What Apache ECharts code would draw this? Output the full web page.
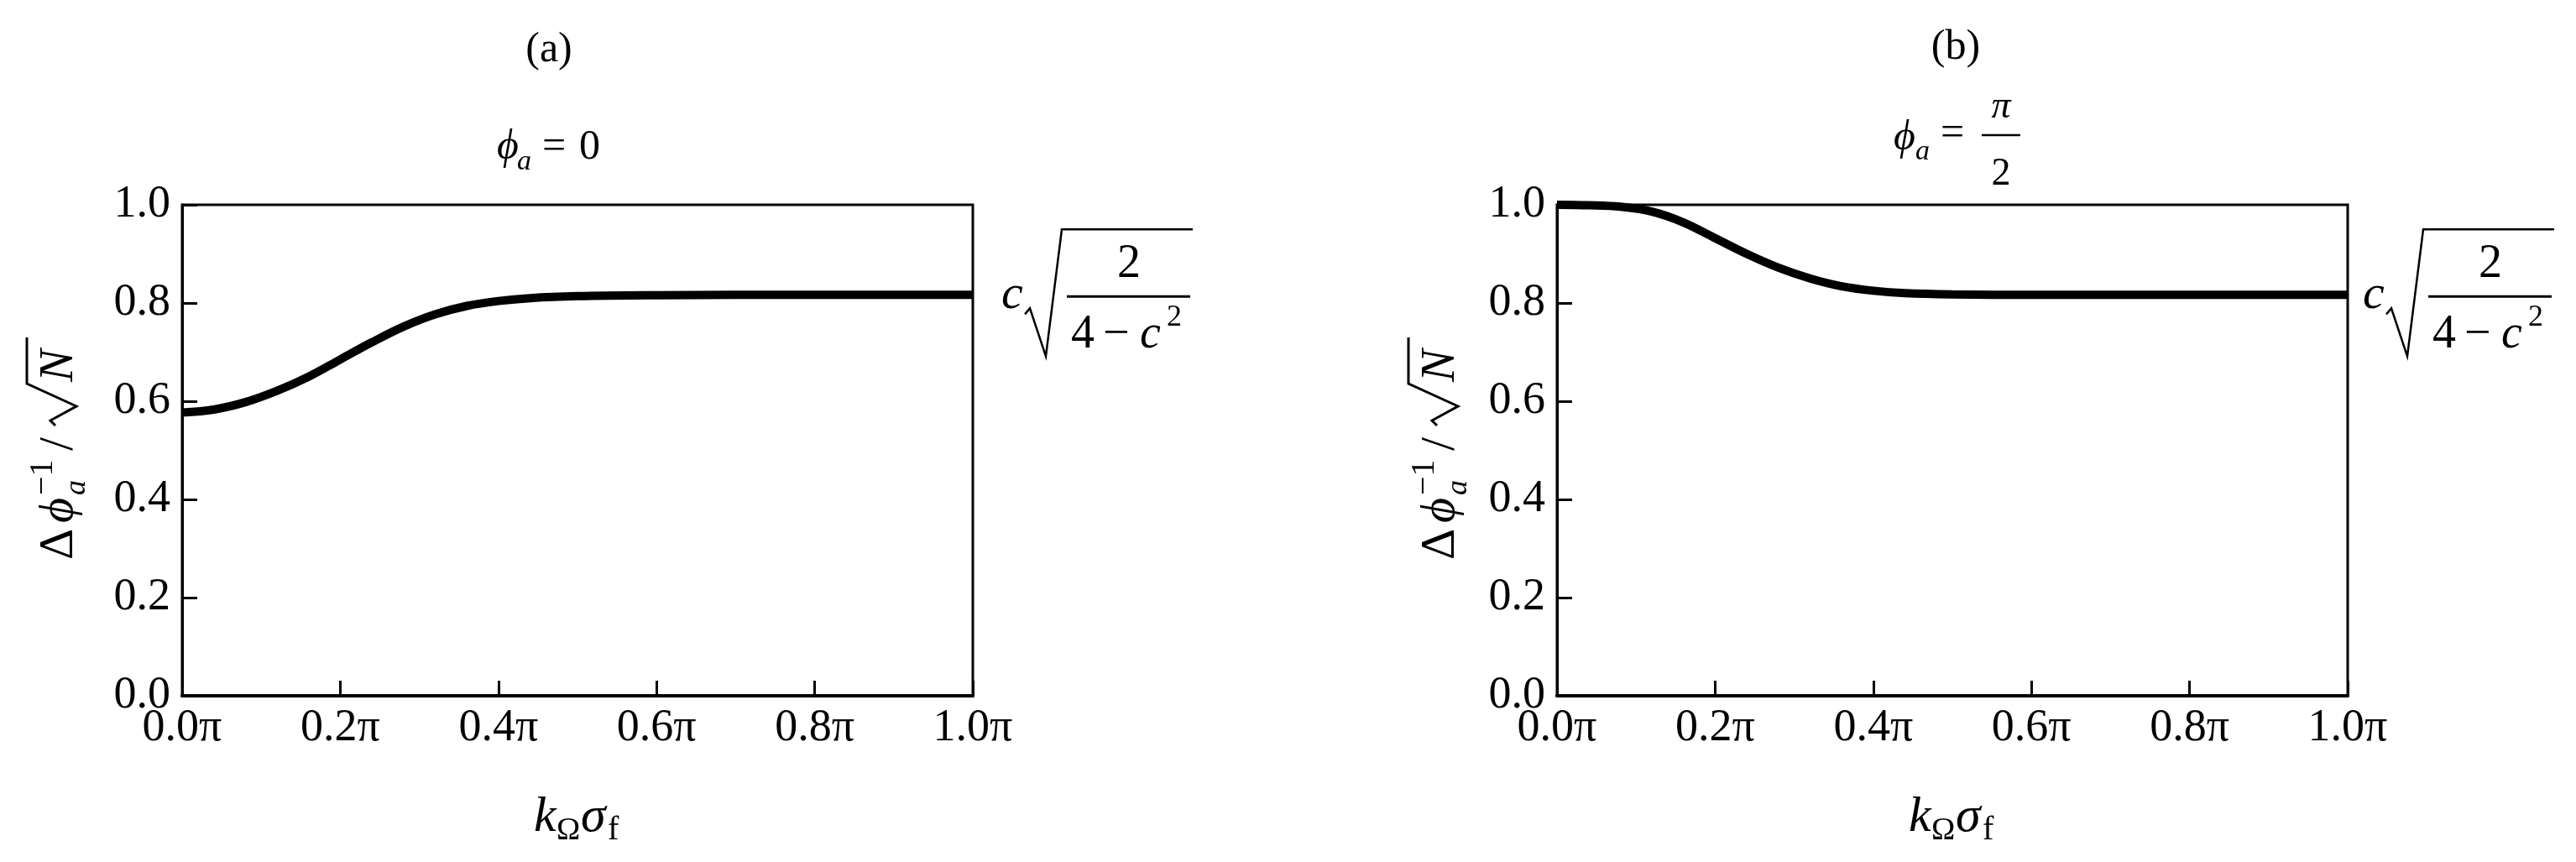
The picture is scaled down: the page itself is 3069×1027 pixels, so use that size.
<!DOCTYPE html>
<html>
<head>
<meta charset="utf-8">
<script src="https://cdn.jsdelivr.net/npm/echarts@6/dist/echarts.min.js"></script>
<style>
  html, body { margin: 0; padding: 0; background: #fff; }
  #chart { width: 3069px; height: 1027px; }
</style>
</head>
<body>
<div id="chart"></div>
<script>
// k_Ω σ_f in units of π
const kSteps = [0, 0.04, 0.08, 0.12, 0.16, 0.2, 0.24, 0.28, 0.32, 0.36, 0.4, 0.44, 0.5, 0.6, 0.7, 0.8, 0.9, 1.0]
const dphiA = [0.577, 0.583, 0.598, 0.621, 0.650, 0.685, 0.720, 0.752, 0.777, 0.794, 0.804, 0.810, 0.814, 0.816, 0.8165, 0.8165, 0.8165, 0.8165]   // ϕa = 0
const dphiB = [1.000, 0.999, 0.996, 0.986, 0.964, 0.932, 0.900, 0.872, 0.850, 0.834, 0.825, 0.820, 0.8175, 0.8165, 0.8165, 0.8165, 0.8165, 0.8165]  // ϕa = π/2

const panelLabels = ['(a)', '(b)']
const xTickStep = 0.2
const yTickStep = 0.2

const FONT = 'Liberation Serif, DejaVu Serif, serif'
const chart = echarts.init(document.getElementById('chart'))

const grids = [
  { left: 217, top: 244, width: 942, height: 585 },
  { left: 1855, top: 244, width: 942, height: 585 }
]

const xAxisFor = (i) => ({
  type: 'value', gridIndex: i, min: 0, max: 1, interval: xTickStep,
  axisLine: { lineStyle: { color: '#000', width: 4 } },
  axisTick: { inside: true, length: 18, lineStyle: { color: '#000', width: 3 } },
  axisLabel: { formatter: v => v.toFixed(1) + 'π', fontSize: 54, fontFamily: FONT, color: '#000', margin: 12 },
  splitLine: { show: false }
})

const yAxisFor = (i) => ({
  type: 'value', gridIndex: i, min: 0, max: 1, interval: yTickStep,
  axisLine: { lineStyle: { color: '#000', width: 3 } },
  axisTick: { inside: true, length: 18, lineStyle: { color: '#000', width: 3 } },
  axisLabel: { formatter: v => v.toFixed(1), fontSize: 54, fontFamily: FONT, color: '#000', margin: 14 },
  splitLine: { show: false }
})

const curve = (i, xs, ys) => ({
  type: 'line', xAxisIndex: i, yAxisIndex: i,
  data: xs.map((x, j) => [x, ys[j]]),
  showSymbol: false, smooth: 0.35, clip: false,
  lineStyle: { color: '#000', width: 10 }, z: 5
})

chart.setOption({
  backgroundColor: '#fff',
  animation: false,
  textStyle: { fontFamily: FONT },
  grid: grids.map(g => ({ ...g, show: true, borderColor: '#000', borderWidth: 3, backgroundColor: 'transparent' })),
  xAxis: [xAxisFor(0), xAxisFor(1)],
  yAxis: [yAxisFor(0), yAxisFor(1)],
  series: [curve(0, kSteps, dphiA), curve(1, kSteps, dphiB)]
})

// ---- math-ish labels drawn as graphic pieces ----
const txt = (t, x, base, size, italic, align) => ({
  type: 'text', x: x, y: base - 0.3 * size,
  style: {
    text: t, fill: '#000', textAlign: align || 'left', textVerticalAlign: 'middle',
    fontSize: size, fontFamily: FONT, fontStyle: italic ? 'italic' : 'normal'
  }
})
const seg = (pts, w) => ({
  type: 'polyline', shape: { points: pts },
  style: { stroke: '#000', fill: null, lineWidth: w || 2.5 }
})
const group = (x, y, children, rotation) => ({ type: 'group', x: x, y: y, rotation: rotation || 0, children: children })

// y axis title: Δϕa^-1 / √N, written along local x, then turned
const yTitle = () => [
  txt('Δ', 0, 0, 58),
  txt('ϕ', 44, 0, 58, true),
  txt('a', 77, 14, 36, true),
  txt('−1', 77, -25, 40),
  txt('/', 130, 0, 58),
  seg([[160, -22], [166, -28], [183, 3], [210, -56], [265, -56]], 3),
  txt('N', 212, 0, 58, true)
]

// x axis title: kΩσf
const xTitle = () => [
  txt('k', 0, 0, 60, true),
  txt('Ω', 27, 9, 38),
  txt('σ', 56, 0, 60, true),
  txt('f', 88, 9, 40)
]

// c √(2 / (4 − c²)) next to the plateau
const limitNote = () => [
  txt('c', 34, 18, 58, true),
  seg([[62, 23], [68, 16], [87, 73], [106, -78], [262, -78]], 2.5),
  txt('2', 186, -19, 56, false, 'center'),
  seg([[112, 2], [259, 2]], 3),
  txt('4', 117, 65, 56),
  txt('−', 155, 65, 56),
  txt('c', 199, 65, 56, true),
  txt('2', 231, 38, 36)
]

const last = kSteps.length - 1
const endA = chart.convertToPixel({ gridIndex: 0 }, [kSteps[last], dphiA[last]])
const endB = chart.convertToPixel({ gridIndex: 1 }, [kSteps[last], dphiB[last]])

chart.setOption({
  graphic: [
    txt(panelLabels[0], 654, 75, 50, false, 'center'),
    txt(panelLabels[1], 2330, 72, 50, false, 'center'),
    // ϕa = 0
    group(592, 191, [
      txt('ϕ', 0, 0, 50, true),
      txt('a', 24, 12, 34, true),
      txt('=', 54, 0, 50),
      txt('0', 98, 0, 50)
    ]),
    // ϕa = π/2
    group(2256, 180, [
      txt('ϕ', 0, 0, 50, true),
      txt('a', 26, 11, 34, true),
      txt('=', 56, -5, 50),
      txt('π', 128, -38, 46, true, 'center'),
      seg([[105, -19], [151, -19]], 2.5),
      txt('2', 128, 42, 46, false, 'center')
    ]),
    group(88, 667, yTitle(), Math.PI / 2),
    group(1734, 667, yTitle(), Math.PI / 2),
    group(grids[0].left + grids[0].width / 2 - 52, 992, xTitle()),
    group(grids[1].left + grids[1].width / 2 - 52, 992, xTitle()),
    group(endA[0], endA[1], limitNote()),
    group(endB[0] - 16, endB[1], limitNote())
  ]
})
</script>
</body>
</html>
